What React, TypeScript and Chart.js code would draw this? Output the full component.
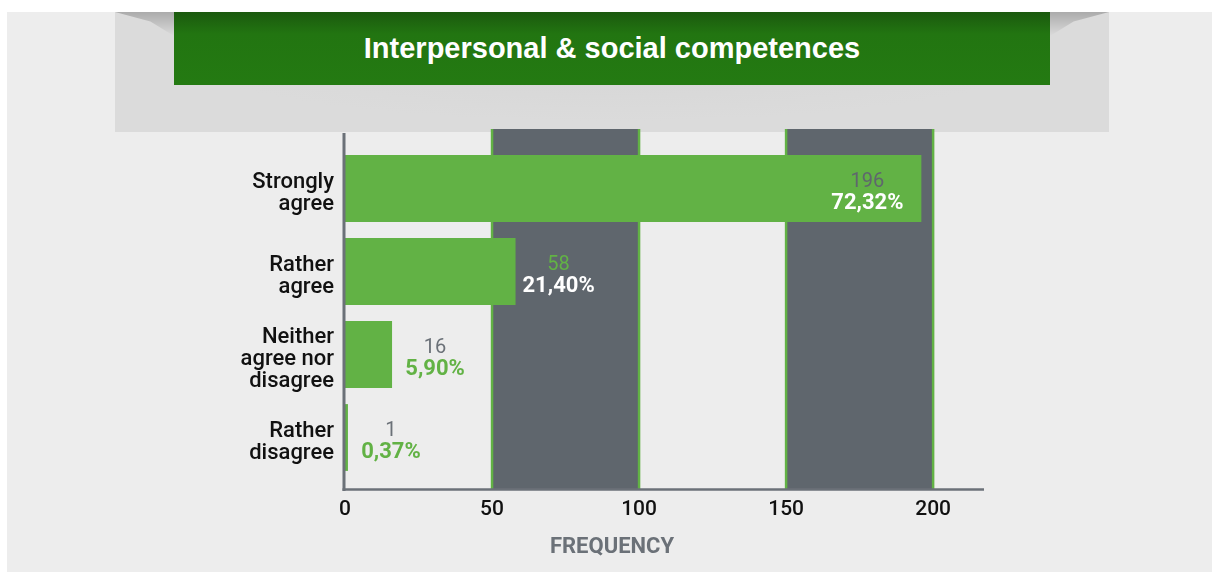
import React, { useEffect, useRef } from "react";
import { Chart, registerables } from "chart.js";

Chart.register(...registerables);

const categories: string[][] = [
  ["Strongly", "agree"],
  ["Rather", "agree"],
  ["Neither", "agree nor", "disagree"],
  ["Rather", "disagree"],
];
const counts: number[] = [196, 58, 16, 1];
const percents: number[] = [72.32, 21.4, 5.9, 0.37];
const tickValues: number[] = [0, 50, 100, 150, 200];
const shadedBands: number[][] = [
  [50, 100],
  [150, 200],
];
const gridValues: number[] = [50, 100, 150, 200];
const xMax = 217.3;

const GREEN = "#62b245";
const DARK = "#5f666d";
const AXIS = "#6b7178";
const FONT = "Roboto, 'Noto Sans', sans-serif";

export default function App() {
  const ref = useRef<HTMLCanvasElement | null>(null);

  useEffect(() => {
    if (!ref.current) return;
    const decor = {
      id: "decor",
      beforeDatasetsDraw(chart: any) {
        const { ctx, chartArea } = chart;
        const xs = chart.scales.x;
        const top = chartArea.top - 18;
        const bottom = chartArea.bottom + 11;
        ctx.save();
        ctx.fillStyle = DARK;
        shadedBands.forEach(([a, b]) => {
          const x1 = xs.getPixelForValue(a);
          const x2 = xs.getPixelForValue(b);
          ctx.fillRect(x1, top, x2 - x1, bottom - top);
        });
        ctx.strokeStyle = GREEN;
        ctx.lineWidth = 2.5;
        gridValues.forEach((v) => {
          const x = xs.getPixelForValue(v);
          ctx.beginPath();
          ctx.moveTo(x, top);
          ctx.lineTo(x, bottom);
          ctx.stroke();
        });
        ctx.restore();
      },
      afterDatasetsDraw(chart: any) {
        const { ctx, chartArea } = chart;
        const xs = chart.scales.x;
        ctx.save();
        ctx.strokeStyle = AXIS;
        ctx.lineWidth = 3;
        const axisX = chartArea.left - 1;
        const axisY = chartArea.bottom + 10.5;
        ctx.beginPath();
        ctx.moveTo(axisX, chartArea.top - 14);
        ctx.lineTo(axisX, axisY + 1.5);
        ctx.stroke();
        ctx.lineWidth = 2.5;
        ctx.beginPath();
        ctx.moveTo(axisX - 1.5, axisY);
        ctx.lineTo(chartArea.right, axisY);
        ctx.stroke();
        const meta = chart.getDatasetMeta(0);
        meta.data.forEach((bar: any, i: number) => {
          const v = counts[i];
          const inside = v > 100;
          const lx = inside ? bar.x - 54 : bar.x + 43;
          const lv = xs.getValueForPixel(lx);
          const dark = shadedBands.some(([a, b]) => lv >= a && lv <= b);
          const countColor = inside ? DARK : dark ? GREEN : AXIS;
          const pctColor = inside || dark ? "#ffffff" : GREEN;
          ctx.textAlign = "center";
          ctx.textBaseline = "middle";
          ctx.font = `400 20px ${FONT}`;
          ctx.fillStyle = countColor;
          ctx.fillText(String(v), lx, bar.y - 6.5);
          ctx.font = `700 22px ${FONT}`;
          ctx.fillStyle = pctColor;
          ctx.fillText(percents[i].toFixed(2).replace(".", ",") + "%", lx, bar.y + 14.5);
        });
        ctx.restore();
      },
    };

    const chart = new Chart(ref.current, {
      type: "bar",
      data: {
        labels: categories,
        datasets: [
          {
            data: counts,
            backgroundColor: GREEN,
            borderWidth: 0,
            categoryPercentage: 1,
            barPercentage: 0.805,
          },
        ],
      },
      options: {
        indexAxis: "y",
        responsive: false,
        animation: false,
        layout: { padding: { left: 0, right: 228, top: 147, bottom: 0 } },
        plugins: {
          legend: { display: false },
          tooltip: { enabled: false },
        },
        scales: {
          x: {
            type: "linear",
            min: 0,
            max: xMax,
            afterFit: (s: any) => {
              s.height = 93;
            },
            afterBuildTicks: (s: any) => {
              s.ticks = tickValues.map((value) => ({ value }));
            },
            ticks: {
              includeBounds: false,
              padding: 18,
              color: "#111111",
              font: { family: FONT, size: 21, weight: "500" },
            },
            grid: { display: false, drawTicks: false },
            border: { display: false },
          },
          y: {
            type: "category",
            afterFit: (s: any) => {
              s.width = 345;
            },
            ticks: {
              padding: 11,
              labelOffset: 5,
              color: "#111111",
              font: { family: FONT, size: 22, weight: "500", lineHeight: 1.0 },
            },
            grid: { display: false, drawTicks: false },
            border: { display: false },
          },
        },
      },
      plugins: [decor],
    } as any);
    return () => chart.destroy();
  }, []);

  return (
    <div style={{ position: "fixed", left: 0, top: 0, width: 1212, height: 572, overflow: "hidden", background: "#ffffff" }}>
      <div style={{ position: "absolute", left: 7, top: 12, width: 1205, height: 560, background: "#ededed" }} />
      <div
        style={{
          position: "absolute",
          left: 115,
          top: 12,
          width: 994,
          height: 120,
          background: "radial-gradient(ellipse at 50% 40%, #d6d6d6 0%, #dbdbdb 60%)",
        }}
      />
      <div
        style={{
          position: "absolute",
          left: 115,
          top: 12,
          width: 59,
          height: 24,
          background: "linear-gradient(180deg, rgba(0,0,0,0.22), rgba(0,0,0,0))",
          clipPath: "polygon(0 0, 100% 0, 100% 100%, 60% 40%)",
        }}
      />
      <div
        style={{
          position: "absolute",
          left: 1050,
          top: 12,
          width: 59,
          height: 24,
          background: "linear-gradient(180deg, rgba(0,0,0,0.22), rgba(0,0,0,0))",
          clipPath: "polygon(0 0, 100% 0, 40% 40%, 0 100%)",
        }}
      />
      <div
        style={{
          position: "absolute",
          left: 174,
          top: 12,
          width: 876,
          height: 73,
          background: "linear-gradient(180deg, #1b590e 0px, #227511 22px, #247a12 73px)",
          display: "flex",
          alignItems: "center",
          justifyContent: "center",
          color: "#ffffff",
          fontFamily: "'Liberation Sans', Arial, sans-serif",
          fontWeight: 700,
          fontSize: 29,
          paddingBottom: 1,
          boxSizing: "border-box",
        }}
      >
        Interpersonal &amp; social competences
      </div>
      <canvas ref={ref} width={1212} height={572} style={{ position: "absolute", left: 0, top: 0, width: 1212, height: 572 }} />
      <div
        style={{
          position: "absolute",
          left: 412,
          top: 535,
          width: 400,
          textAlign: "center",
          fontFamily: FONT,
          fontWeight: 700,
          fontSize: 22,
          lineHeight: "22px",
          color: AXIS,
        }}
      >
        FREQUENCY
      </div>
    </div>
  );
}
